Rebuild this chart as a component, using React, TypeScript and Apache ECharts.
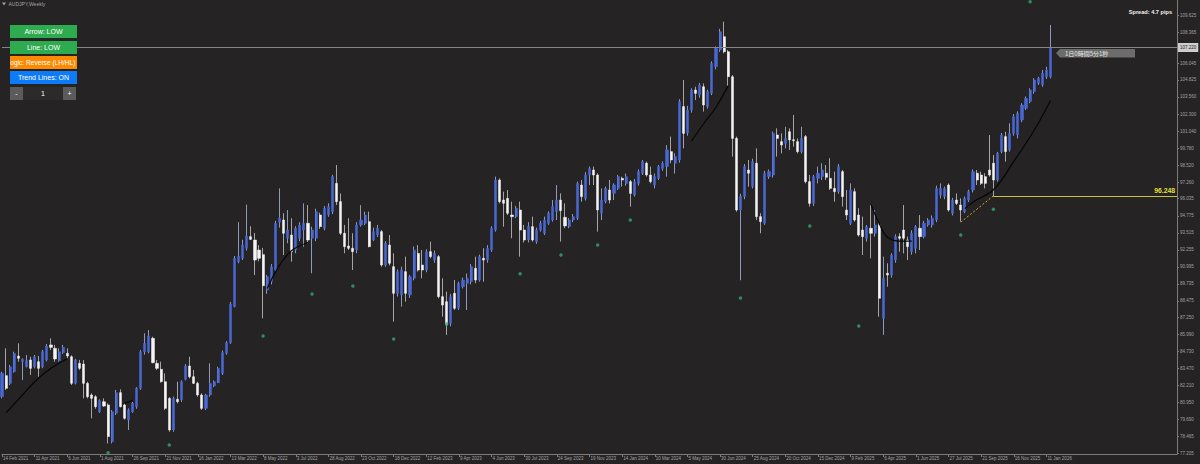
import React, { useEffect, useRef } from "react";
import * as echarts from "echarts";

// ---- x axis tick labels (every 8 weekly bars) ----
const tickLabels = [
  "14 Feb 2021", "11 Apr 2021", "6 Jun 2021", "1 Aug 2021", "26 Sep 2021", "21 Nov 2021",
  "16 Jan 2022", "13 Mar 2022", "8 May 2022", "3 Jul 2022", "28 Aug 2022", "23 Oct 2022", "18 Dec 2022",
  "12 Feb 2023", "9 Apr 2023", "4 Jun 2023", "30 Jul 2023", "24 Sep 2023", "19 Nov 2023",
  "14 Jan 2024", "10 Mar 2024", "5 May 2024", "30 Jun 2024", "25 Aug 2024", "20 Oct 2024", "15 Dec 2024",
  "9 Feb 2025", "6 Apr 2025", "1 Jun 2025", "27 Jul 2025", "21 Sep 2025", "16 Nov 2025", "11 Jan 2026",
];
const TOTAL_SLOTS = 289; // 258 bars + empty right shift

// ---- y axis tick labels ----
const yTickValues = [
  109.625, 108.365, 106.045, 104.825, 103.56, 102.3, 101.04, 99.78, 98.52, 97.26, 96.035, 94.775,
  93.515, 92.255, 90.995, 89.735, 88.475, 87.25, 85.99, 84.73, 83.47, 82.21, 80.95, 79.69, 78.465, 77.205,
];

// ---- weekly OHLC, [open, close, low, high] ----
const bars2021 = [
  [81.39, 83.12, 81.27, 83.24], [82.95, 82.01, 81.89, 84.97], [82.38, 83.61, 82.26, 83.74], [83.24, 84.6, 83.17, 84.72],
  [84.4, 84.23, 83.98, 85.34], [83.98, 84.15, 82.63, 84.23], [83.61, 84.06, 83.56, 84.48], [84.11, 83.49, 83.0, 84.35],
  [83.61, 84.35, 83.49, 84.48], [83.98, 83.49, 82.87, 84.4], [83.61, 84.72, 83.5, 84.85], [84.11, 85.14, 84.0, 85.29],
  [85.22, 85.04, 84.85, 85.71], [84.97, 84.18, 83.98, 85.22], [84.06, 84.72, 83.98, 84.97], [84.65, 85.04, 84.55, 85.22],
  [84.6, 84.4, 84.23, 84.97], [84.35, 82.38, 82.26, 84.45], [82.38, 84.11, 82.3, 84.2], [83.86, 83.49, 83.37, 84.11],
  [83.81, 82.38, 81.27, 84.11], [82.38, 81.39, 81.27, 82.5], [81.52, 81.27, 79.79, 81.64], [81.39, 80.65, 80.5, 81.5],
  [80.28, 81.1, 80.2, 81.2], [81.02, 80.7, 80.65, 81.27], [80.78, 78.44, 77.94, 80.9], [78.06, 80.28, 77.94, 80.4],
  [80.16, 81.69, 80.04, 81.89], [81.69, 80.65, 80.6, 81.94], [80.78, 79.79, 79.7, 80.9], [79.67, 80.41, 78.93, 80.53],
  [80.28, 80.9, 80.2, 81.0], [80.65, 82.01, 80.5, 82.1], [82.01, 84.72, 81.9, 84.85], [84.72, 85.34, 84.5, 86.08],
  [84.72, 85.88, 84.6, 86.32], [85.71, 83.91, 83.86, 85.83], [83.86, 83.49, 83.37, 84.11], [83.42, 82.5, 82.43, 83.98],
  [82.5, 80.53, 80.41, 83.12], [81.27, 78.93, 78.8, 81.35], [78.93, 81.27, 78.8, 81.4], [81.2, 81.02, 80.9, 82.5],
  [81.15, 82.5, 81.0, 82.6], [82.68, 83.66, 82.6, 83.8],
];
const bars2022 = [
  [83.66, 82.87, 82.75, 84.35], [82.87, 82.38, 82.33, 83.37], [82.38, 81.52, 81.39, 82.5], [81.52, 80.53, 80.41, 81.64],
  [80.53, 81.52, 80.4, 81.6], [81.52, 82.38, 81.39, 83.86], [82.19, 82.5, 82.1, 82.6], [82.43, 83.49, 82.4, 83.6],
  [83.12, 84.65, 83.0, 84.8], [84.6, 85.39, 84.5, 85.5], [85.39, 88.25, 85.3, 88.4], [88.05, 91.63, 88.0, 91.8],
  [91.38, 91.8, 91.26, 94.3], [91.63, 92.61, 91.5, 93.0], [92.37, 93.28, 92.2, 95.6], [93.23, 93.03, 92.98, 94.0],
  [92.98, 91.5, 90.39, 93.5], [92.24, 91.63, 91.4, 92.6], [91.9, 89.6, 87.19, 92.4], [89.28, 90.27, 89.0, 90.4],
  [89.9, 91.0, 89.7, 91.2], [90.76, 94.22, 90.6, 94.4], [94.3, 94.6, 93.9, 96.8], [94.46, 93.48, 91.87, 94.96],
  [93.11, 93.72, 92.74, 95.2], [93.35, 92.12, 91.38, 94.59], [92.24, 93.85, 92.0, 94.0], [93.11, 94.09, 92.9, 94.3],
  [93.72, 94.22, 92.49, 95.69], [94.22, 92.98, 92.74, 95.57], [93.11, 93.72, 90.52, 93.97], [93.11, 95.08, 92.9, 95.3],
  [94.83, 93.97, 93.8, 95.0], [93.85, 95.33, 93.7, 95.5], [94.83, 95.45, 94.7, 95.7], [95.08, 97.67, 94.9, 97.8],
  [97.17, 95.82, 95.57, 98.53], [95.82, 93.48, 93.35, 96.43], [93.48, 92.49, 92.0, 94.1], [92.54, 92.37, 92.24, 94.59],
  [92.37, 92.12, 90.76, 93.48], [92.24, 94.09, 92.0, 94.3], [94.09, 94.46, 93.97, 95.57], [94.22, 94.83, 94.09, 95.08],
  [94.34, 92.49, 92.44, 95.08], [92.98, 93.6, 92.9, 93.9], [93.35, 93.85, 93.2, 94.1], [93.6, 91.13, 91.01, 93.72],
  [91.13, 92.74, 91.0, 92.9], [92.61, 91.26, 91.1, 93.35], [91.01, 89.04, 86.94, 92.0], [89.04, 90.64, 88.8, 90.8],
];
const bars2023 = [
  [88.92, 90.76, 88.05, 91.01], [90.64, 89.04, 88.42, 91.75], [88.92, 90.27, 88.7, 90.4], [90.15, 92.24, 90.0, 92.5],
  [91.99, 90.76, 90.64, 92.61], [91.13, 90.76, 90.15, 92.24], [90.76, 92.12, 90.6, 92.3], [92.12, 91.75, 91.63, 92.86],
  [91.5, 92.0, 91.3, 92.2], [91.75, 88.79, 88.67, 91.87], [88.79, 88.17, 87.31, 90.15], [88.42, 86.7, 85.96, 89.16],
  [86.82, 88.79, 86.6, 89.0], [89.04, 87.93, 87.8, 90.02], [87.93, 89.78, 87.8, 89.9], [89.53, 90.02, 89.4, 90.2],
  [89.78, 90.15, 87.8, 90.5], [89.9, 91.01, 89.7, 91.2], [90.89, 90.02, 89.78, 91.75], [90.02, 91.75, 89.9, 91.9],
  [91.63, 91.5, 89.9, 92.37], [91.5, 92.37, 91.3, 92.6], [92.24, 93.85, 92.1, 94.0], [93.72, 97.42, 93.6, 97.67],
  [97.42, 95.82, 95.69, 97.54], [95.94, 95.7, 93.97, 96.56], [96.06, 94.96, 94.83, 96.68], [94.83, 94.71, 93.11, 95.82],
  [94.71, 95.33, 94.6, 95.5], [95.2, 93.72, 91.75, 95.82], [93.72, 92.98, 92.8, 94.1], [92.98, 94.0, 92.8, 94.3],
  [93.97, 92.98, 92.86, 94.71], [92.86, 93.72, 92.7, 93.9], [93.72, 94.22, 93.6, 94.4], [93.48, 94.46, 93.35, 94.71],
  [94.22, 94.96, 94.1, 95.1], [94.46, 95.45, 94.34, 95.94], [95.08, 95.94, 94.46, 97.05], [95.94, 95.15, 92.86, 96.43],
  [94.66, 94.02, 93.85, 95.69], [93.97, 94.46, 93.85, 94.6], [94.46, 94.71, 94.3, 94.9], [94.59, 97.17, 94.46, 97.3],
  [97.05, 96.19, 95.82, 97.42], [96.06, 97.79, 95.9, 98.0], [97.79, 98.28, 97.05, 98.41], [98.16, 97.79, 97.05, 98.41],
  [97.79, 95.2, 93.6, 97.92], [94.96, 95.94, 94.46, 96.8], [95.82, 96.8, 95.7, 96.93], [96.68, 95.94, 95.69, 97.42],
];
const bars2024 = [
  [96.43, 97.05, 95.94, 97.17], [96.8, 97.67, 96.68, 97.79], [97.54, 97.42, 96.93, 97.67], [97.17, 97.67, 97.0, 97.9],
  [97.3, 96.43, 95.45, 97.42], [96.31, 97.3, 96.2, 97.5], [97.17, 98.04, 97.0, 98.2], [97.92, 98.78, 97.79, 98.9],
  [98.66, 97.79, 97.67, 98.78], [97.79, 97.3, 97.17, 98.41], [97.05, 97.67, 96.8, 97.9], [97.54, 98.41, 97.42, 98.53],
  [98.28, 98.66, 98.1, 98.8], [98.41, 99.64, 97.67, 100.0], [99.52, 98.9, 98.66, 100.63], [98.66, 99.15, 97.9, 99.4],
  [98.9, 103.22, 98.7, 103.4], [102.85, 100.87, 99.76, 104.82], [100.9, 102.6, 100.7, 102.9], [102.6, 104.08, 102.4, 104.2],
  [104.08, 103.83, 103.34, 104.32], [103.7, 104.45, 103.5, 104.6], [104.32, 102.97, 102.48, 104.57], [102.85, 103.96, 102.7, 104.1],
  [103.83, 106.05, 103.7, 106.2], [105.8, 107.16, 105.6, 107.3], [107.04, 108.39, 106.9, 108.6], [108.02, 106.91, 106.79, 109.13],
  [106.91, 105.06, 104.32, 107.04], [105.06, 100.5, 99.15, 105.19], [100.5, 95.2, 95.08, 100.63], [95.2, 96.2, 90.0, 96.4],
  [96.19, 98.41, 96.0, 98.6], [98.16, 97.92, 96.93, 98.9], [96.93, 98.78, 96.8, 99.0], [98.66, 94.71, 94.46, 99.76],
  [94.71, 94.34, 93.48, 94.96], [94.22, 97.91, 94.1, 98.1], [97.67, 98.04, 97.5, 98.2], [97.79, 100.87, 97.6, 101.0],
  [100.75, 100.5, 99.15, 101.24], [100.26, 100.01, 99.39, 100.87], [100.13, 100.5, 99.76, 101.36], [100.99, 100.38, 99.64, 101.24],
  [100.4, 100.33, 99.89, 102.23], [100.26, 99.52, 99.39, 100.5], [99.52, 100.5, 99.39, 101.36], [100.63, 97.3, 97.17, 100.75],
  [97.3, 95.69, 95.45, 97.79], [95.69, 97.67, 95.5, 97.8], [97.54, 97.92, 97.17, 98.41], [97.67, 98.16, 97.42, 98.66],
];
const bars2025 = [
  [97.92, 97.62, 97.42, 98.53], [97.54, 96.8, 96.68, 99.03], [96.8, 96.56, 95.82, 98.04], [96.56, 98.41, 96.4, 98.6],
  [98.04, 96.19, 95.45, 98.16], [95.2, 94.83, 94.46, 96.68], [94.22, 96.68, 94.09, 97.17], [96.56, 94.46, 94.34, 96.8],
  [94.83, 93.35, 93.23, 95.33], [93.72, 93.23, 91.87, 94.71], [93.11, 93.97, 92.86, 94.09], [93.85, 93.48, 91.63, 95.57],
  [93.48, 94.09, 93.23, 95.2], [94.09, 88.67, 87.31, 94.34], [87.19, 90.15, 85.96, 91.75], [90.52, 90.39, 89.53, 91.26],
  [90.39, 91.87, 90.2, 92.0], [91.5, 93.23, 91.3, 93.4], [93.23, 93.11, 92.12, 93.48], [93.72, 93.11, 91.99, 95.57],
  [92.98, 92.49, 91.5, 93.23], [92.12, 93.48, 91.9, 93.7], [92.37, 93.97, 91.99, 94.09], [93.85, 93.23, 92.24, 94.83],
  [93.23, 94.22, 93.1, 94.4], [94.09, 94.46, 93.97, 94.6], [94.09, 94.59, 93.9, 94.8], [94.46, 96.8, 94.3, 97.0],
  [96.31, 96.8, 96.06, 97.17], [96.2, 96.8, 96.0, 96.93], [97.05, 95.2, 95.08, 97.17], [94.96, 95.94, 94.8, 96.1],
  [95.94, 95.69, 95.57, 96.43], [95.57, 95.2, 94.34, 96.06], [95.08, 96.06, 94.96, 96.2], [95.94, 96.56, 95.8, 96.7],
  [96.68, 98.04, 96.5, 98.2], [97.92, 97.42, 97.05, 98.16], [97.79, 97.17, 97.05, 98.04], [97.67, 97.17, 96.8, 97.92],
  [98.16, 97.79, 97.67, 100.75], [98.66, 97.42, 96.19, 99.27], [97.42, 99.39, 97.3, 99.5], [99.52, 100.75, 99.4, 100.9],
  [100.63, 99.52, 98.78, 100.99], [99.64, 100.87, 99.52, 101.61], [100.87, 102.1, 100.7, 102.3], [100.75, 102.35, 100.5, 102.5],
  [101.86, 102.97, 101.7, 103.1], [102.72, 103.46, 102.6, 103.6], [103.22, 104.08, 103.1, 104.2], [103.96, 104.82, 103.8, 104.95],
  [104.57, 104.94, 104.45, 105.06], [104.45, 105.31, 104.32, 105.56], [105.06, 105.56, 104.9, 105.8], [105.06, 107.22, 104.94, 108.89],
];

// ---- indicator: arrows under swing lows ----
const arrowBars = [26, 41, 64, 76, 86, 96, 109, 127, 137, 146, 154, 181, 198, 210, 235, 243, 252];
const arrowPrices = [77.25, 77.82, 85.88, 88.99, 89.58, 85.66, 86.77, 90.49, 91.87, 92.61, 94.46, 88.69, 94.02, 86.62, 93.35, 95.25, 110.6];

// ---- indicator: black trend curves, [bar, price] ----
const curveA = [[1, 80.2], [5, 81.5], [8, 82.5], [12, 83.5], [16, 84.2]];
const curveB = [[30, 80.9], [31, 81.0], [32, 81.15]];
const curveC = [[65, 89.4], [68, 91.1], [71, 92.2], [75, 92.8]];
const curveD = [[169, 100.3], [172, 101.6], [175, 102.8], [178, 104.4]];
const curveE = [[213, 95.6], [215, 94.2], [217, 93.2], [220, 92.9], [223, 92.9]];
const curveF = [[236, 95.3], [238, 95.8], [243, 96.7], [248, 98.8], [253, 101.1], [257, 103.3]];

// ---- levels ----
const bidPrice = 107.22;
const levelPrice = 96.248;
const levelStartBar = 243;
const trendStart = [235, 94.3];

const BG = "#252324";
const FONT = "'Liberation Sans', Arial, sans-serif";
const GZ = 50;

export default function App() {
  const ref = useRef<HTMLDivElement>(null);
  useEffect(() => {
    const chart = echarts.init(ref.current!, null, { renderer: "svg" });
    const candles = [...bars2021, ...bars2022, ...bars2023, ...bars2024, ...bars2025];
    const bodies = candles.map(([o, c]) => [o, c, Math.min(o, c), Math.max(o, c)]);
    const slots = Array.from({ length: TOTAL_SLOTS }, (_, i) => String(i));
    const showTick = (i: number) => i % 8 === 0 && i / 8 < tickLabels.length;
    const curves = [curveA, curveB, curveC, curveD, curveE, curveF];

    const button = (x: number, y: number, w: number, h: number, fill: string, text: string) => [
      { type: "rect", z: GZ, shape: { x, y, width: w, height: h }, style: { fill } },
      {
        type: "text", z: GZ + 1, x: x + w / 2, y: y + h / 2,
        style: { text, fill: "#ffffff", fontSize: 7, fontFamily: FONT, align: "center", verticalAlign: "middle" },
      },
    ];

    const option: any = {
      animation: false,
      backgroundColor: BG,
      grid: { left: 1, right: 23, top: 0, bottom: 10, containLabel: false },
      xAxis: {
        type: "category",
        data: slots,
        boundaryGap: false,
        axisLine: { show: true, onZero: false, lineStyle: { color: "#7c7c7c", width: 1 } },
        axisTick: { show: true, interval: (i: number) => showTick(i), length: 3, lineStyle: { color: "#7c7c7c" } },
        axisLabel: {
          interval: (i: number) => showTick(i),
          formatter: (v: string) => {
            const i = Number(v);
            return showTick(i) ? tickLabels[i / 8] : "";
          },
          align: "left",
          color: "#a3a3a3",
          fontSize: 4.5,
          fontFamily: FONT,
          margin: 2,
          padding: [0, 0, 0, 1],
        },
        splitLine: { show: false },
      },
      yAxis: {
        type: "value",
        position: "right",
        min: 77.153,
        max: 110.735,
        splitLine: { show: false },
        axisLine: { show: true, lineStyle: { color: "#7c7c7c", width: 1 } },
        axisTick: { show: true, customValues: yTickValues, length: 2, lineStyle: { color: "#7c7c7c" } },
        axisLabel: {
          customValues: yTickValues,
          formatter: (v: number) => v.toFixed(3),
          color: "#a3a3a3",
          fontSize: 4.5,
          fontFamily: FONT,
          margin: 3,
        },
      },
      series: [
        {
          type: "candlestick",
          name: "wicks",
          data: candles,
          barWidth: 1,
          silent: true,
          itemStyle: { color: "#8f98b8", color0: "#a5a5a5", borderColor: "#8f98b8", borderColor0: "#a5a5a5", borderWidth: 1 },
          z: 2,
        },
        {
          type: "candlestick",
          name: "AUDJPY",
          data: bodies,
          barWidth: 2.6,
          silent: true,
          itemStyle: { color: "#4868d6", color0: "#f4f4f4", borderColor: "#4868d6", borderColor0: "#f4f4f4", borderWidth: 0.5 },
          z: 3,
          markLine: {
            silent: true,
            symbol: ["none", "none"],
            animation: false,
            data: [
              {
                yAxis: bidPrice,
                lineStyle: { color: "#858585", width: 1, type: "solid" },
                label: {
                  show: true, position: "end", distance: 1,
                  formatter: bidPrice.toFixed(3),
                  backgroundColor: "#cfcfcf", color: "#222222", fontSize: 4.5, fontFamily: FONT, padding: [2, 2],
                },
              },
              [
                {
                  coord: [levelStartBar, levelPrice],
                  lineStyle: { color: "#c9c23e", width: 1, type: "solid" },
                  label: {
                    show: true, position: "insideEndTop", distance: 2,
                    formatter: levelPrice.toFixed(3),
                    color: "#e6e03a", fontWeight: "bold", fontSize: 6.8, fontFamily: FONT,
                  },
                },
                { coord: [TOTAL_SLOTS - 1, levelPrice] },
              ],
              [
                {
                  coord: trendStart,
                  lineStyle: { color: "#d9a520", width: 1, type: [2, 2] },
                  label: { show: false },
                },
                { coord: [levelStartBar, levelPrice] },
              ],
            ],
          },
        },
        ...curves.map((c) => ({
          type: "line",
          data: c,
          smooth: 0.4,
          symbol: "none",
          silent: true,
          lineStyle: { color: "#060606", width: 1.2 },
          z: 4,
        })),
        {
          type: "scatter",
          data: arrowBars.map((b, i) => [b, arrowPrices[i]]),
          symbol: "circle",
          symbolSize: 3.5,
          silent: true,
          itemStyle: { color: "#35a56c" },
          z: 5,
        },
      ],
      graphic: [
        { type: "polygon", z: GZ, shape: { points: [[2, 2.5], [6, 2.5], [4, 5.5]] }, style: { fill: "#a0a0a0" } },
        {
          type: "text", z: GZ, x: 8.5, y: 4,
          style: { text: "AUDJPY,Weekly", fill: "#a6a6a6", fontSize: 5, fontFamily: FONT, align: "left", verticalAlign: "middle" },
        },
        ...button(10, 25, 67, 13, "#2eaa4f", "Arrow: LOW"),
        ...button(10, 41, 67, 13, "#2eaa4f", "Line: LOW"),
        { type: "rect", z: GZ, shape: { x: 10, y: 56, width: 67, height: 13 }, style: { fill: "#fd8a00" } },
        {
          type: "text", z: GZ + 1, x: 75.5, y: 62.5,
          style: { text: "Logic: Reverse (LH/HL)", fill: "#ffffff", fontSize: 6.6, fontFamily: FONT, align: "right", verticalAlign: "middle" },
        },
        { type: "rect", z: GZ + 2, shape: { x: 0, y: 55, width: 10, height: 15 }, style: { fill: BG } },
        ...button(10, 71, 67, 13, "#0d7bf7", "Trend Lines: ON"),
        { type: "rect", z: GZ, shape: { x: 23, y: 87, width: 40, height: 13 }, style: { fill: "#2c2a2b" } },
        ...button(10, 87, 13, 13, "#5b5b5b", "-"),
        {
          type: "text", z: GZ + 1, x: 43, y: 93.5,
          style: { text: "1", fill: "#ffffff", fontSize: 7, fontFamily: FONT, align: "center", verticalAlign: "middle" },
        },
        ...button(63, 87, 13, 13, "#5b5b5b", "+"),
        {
          type: "text", z: GZ, x: 1172, y: 12,
          style: { text: "Spread: 4.7 pips", fill: "#f2f2f2", fontSize: 5.6, fontWeight: "bold", fontFamily: FONT, align: "right", verticalAlign: "middle" },
        },
        {
          type: "polygon", z: GZ,
          shape: { points: [[1056, 53], [1060, 49], [1135, 49], [1135, 57.5], [1060, 57.5]] },
          style: { fill: "#6c6c6c" },
        },
        {
          type: "text", z: GZ + 1, x: 1065, y: 53.4,
          style: { text: "1日0時間5分1秒", fill: "#e8e8e8", fontSize: 6, fontFamily: "'Noto Sans CJK JP', sans-serif", align: "left", verticalAlign: "middle" },
        },
      ],
    };
    chart.setOption(option);
    return () => chart.dispose();
  }, []);
  return <div ref={ref} style={{ position: "fixed", left: 0, top: 0, width: 1200, height: 464 }} />;
}
